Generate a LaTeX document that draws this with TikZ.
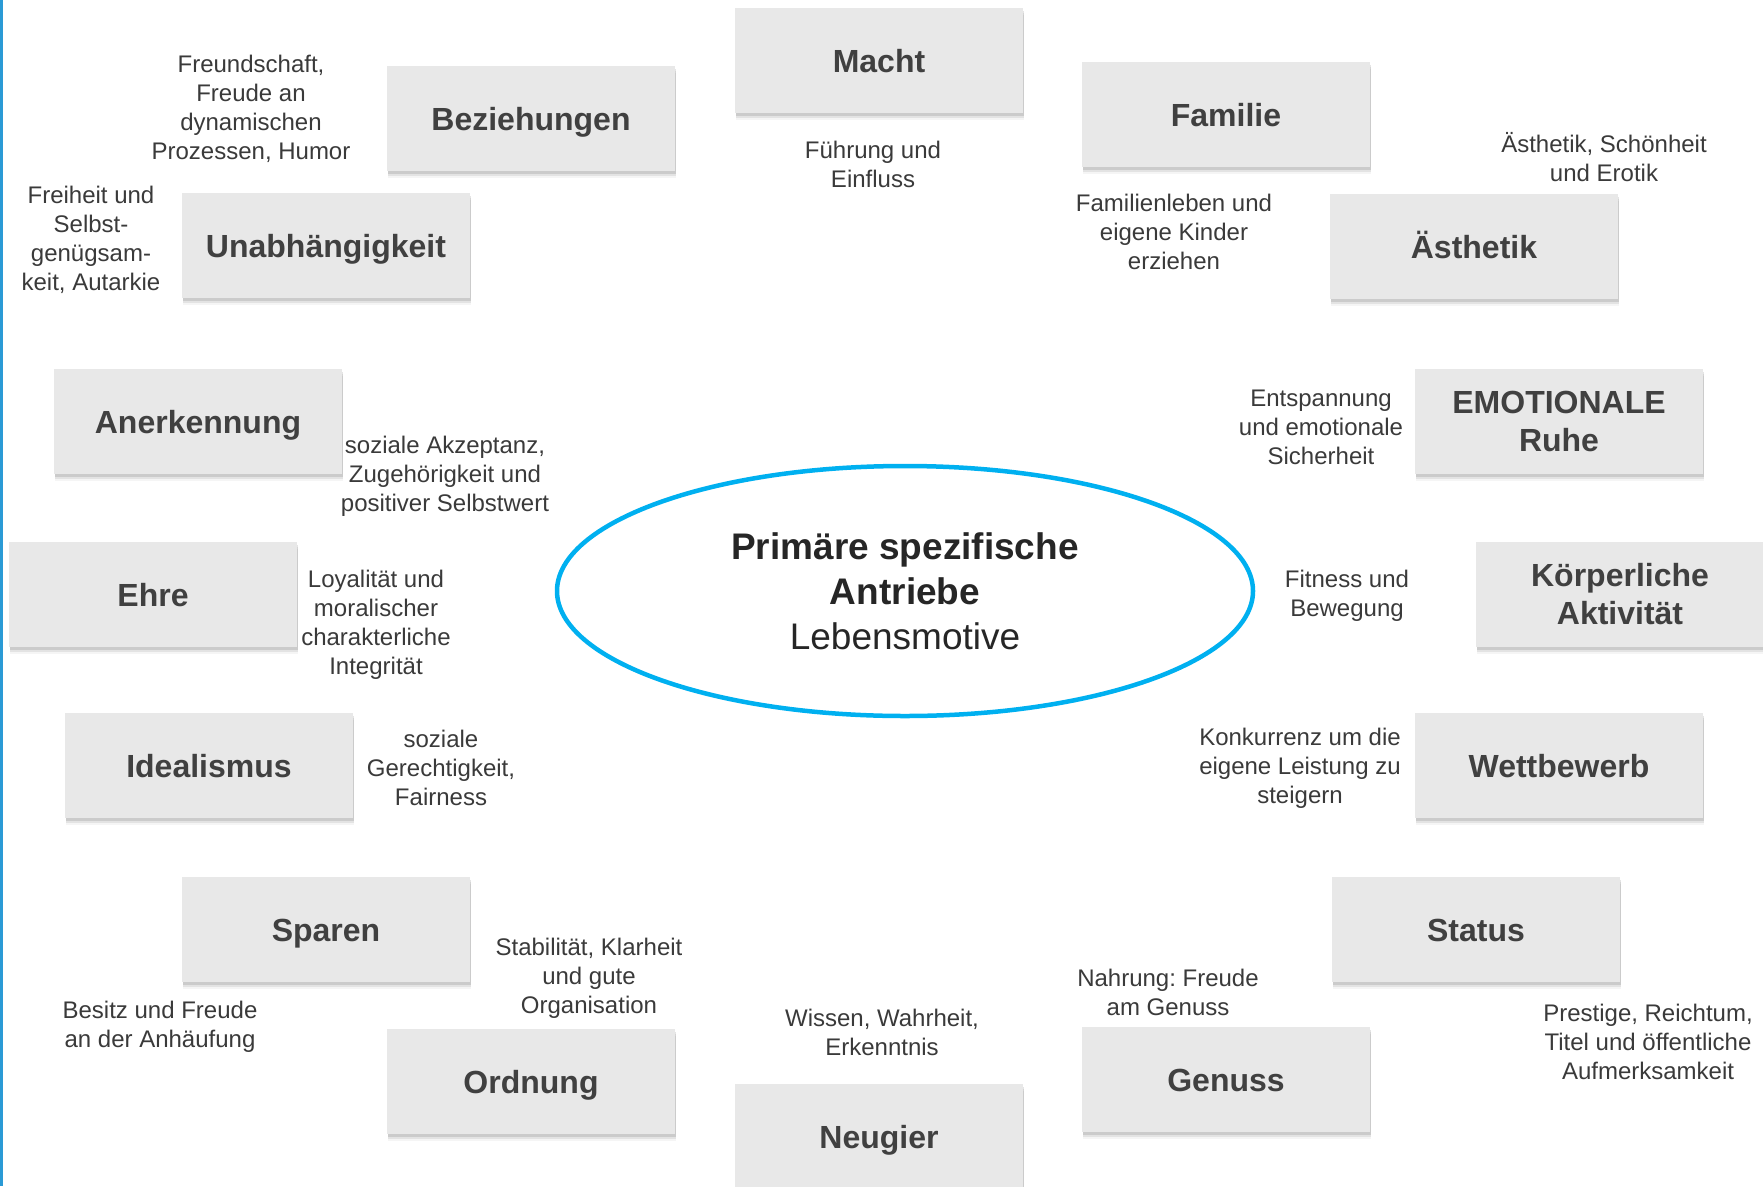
\documentclass[tikz,border=0pt]{standalone}
\usepackage{fontspec}
\setmainfont{Liberation Sans}
\usetikzlibrary{shapes.geometric,shadows}
\frenchspacing

\definecolor{boxgray}{HTML}{E8E8E8}
\definecolor{labelgray}{HTML}{404040}
\definecolor{notegray}{HTML}{3A3A3A}
\definecolor{coretext}{HTML}{262626}
\definecolor{ringblue}{HTML}{00B0F0}
\definecolor{edgeblue}{HTML}{2A9AD5}

\tikzset{
  boxshadow/.style={
    general shadow={fill=black, opacity=0.04, shadow xshift=1pt, shadow yshift=-7pt},
    general shadow={fill=black, opacity=0.07, shadow xshift=1pt, shadow yshift=-5pt},
    general shadow={fill=black, opacity=0.10, shadow xshift=0.5pt, shadow yshift=-3pt}},
  motive/.style={fill=boxgray, draw=none, minimum width=288pt, minimum height=105pt,
    inner sep=0pt, text=labelgray, text height=25pt, text depth=0pt,
    font=\fontsize{32}{38}\selectfont\bfseries, boxshadow},
  motivetwo/.style={motive, text height=, text depth=, align=center, yshift=-1pt},
  note/.style={inner sep=0pt, align=center, text=notegray, yshift=-2pt,
    font=\fontsize{24}{29}\selectfont},
  core/.style={ellipse, draw=ringblue, line width=4.5pt, minimum width=696pt,
    minimum height=250pt, inner sep=0pt, align=center, text=coretext,
    font=\fontsize{37}{45}\selectfont}
}

\begin{document}
\begin{tikzpicture}[x=1pt, y=-1pt]
  \useasboundingbox (0,0) rectangle (1763,1186);
  \fill[white] (0,0) rectangle (1763,1186);
  % thin accent bar on the left edge
  \fill[edgeblue] (0,0) rectangle (3,1186);

  % centre
  \node[core] (core) at (905,591)
    {\textbf{Primäre spezifische}\\\textbf{Antriebe}\\Lebensmotive};

  % motive boxes
  \node[motive] (macht)   at (879,60)   {Macht};
  \node[motive] (bez)     at (531,118)  {Beziehungen};
  \node[motive] (fam)     at (1226,114) {Familie};
  \node[motive] (unab)    at (326,245)  {Unabhängigkeit};
  \node[motive] (aest)    at (1474,246) {Ästhetik};
  \node[motive] (anerk)   at (198,421)  {Anerkennung};
  \node[motivetwo] (ruhe)    at (1559,420) {EMOTIONALE\\Ruhe};
  \node[motive] (ehre)    at (153,594)  {Ehre};
  \node[motivetwo] (koerper) at (1620,593) {Körperliche\\Aktivität};
  \node[motive] (ideal)   at (209,765)  {Idealismus};
  \node[motive] (wett)    at (1559,765) {Wettbewerb};
  \node[motive] (sparen)  at (326,929)  {Sparen};
  \node[motive] (status)  at (1476,929) {Status};
  \node[motive] (ordn)    at (531,1081) {Ordnung};
  \node[motive] (genuss)  at (1226,1079) {Genuss};
  \node[motive] (neug)    at (879,1136) {Neugier};

  % descriptions
  \node[note] (nbez)    at (251,107)  {Freundschaft,\\Freude an\\dynamischen\\Prozessen, Humor};
  \node[note] (nunab)   at (91,238)   {Freiheit und\\Selbst-\\genügsam-\\keit, Autarkie};
  \node[note] (nmacht)  at (873,162)  {Führung und\\Einfluss};
  \node[note] (nfam)    at (1174,230) {Familienleben und\\eigene Kinder\\erziehen};
  \node[note] (naest)   at (1604,155) {Ästhetik, Schönheit\\und Erotik};
  \node[note] (nruhe)   at (1321,425) {Entspannung\\und emotionale\\Sicherheit};
  \node[note] (nanerk)  at (445,474)  {soziale Akzeptanz,\\Zugehörigkeit und\\positiver Selbstwert};
  \node[note] (nehre)   at (376,623)  {Loyalität und\\moralischer\\charakterliche\\Integrität};
  \node[note] (nkoerp)  at (1347,594) {Fitness und\\Bewegung};
  \node[note] (nideal)  at (441,766)  {soziale\\Gerechtigkeit,\\Fairness};
  \node[note] (nwett)   at (1300,766) {Konkurrenz um die\\eigene Leistung zu\\steigern};
  \node[note] (nordn)   at (589,976)  {Stabilität, Klarheit\\und gute\\Organisation};
  \node[note] (nsparen) at (160,1025) {Besitz und Freude\\an der Anhäufung};
  \node[note] (nneug)   at (882,1030) {Wissen, Wahrheit,\\Erkenntnis};
  \node[note] (ngenuss) at (1168,990) {Nahrung: Freude\\am Genuss};
  \node[note] (nstatus) at (1648,1040) {Prestige, Reichtum,\\Titel und öffentliche\\Aufmerksamkeit};
\end{tikzpicture}
\end{document}
